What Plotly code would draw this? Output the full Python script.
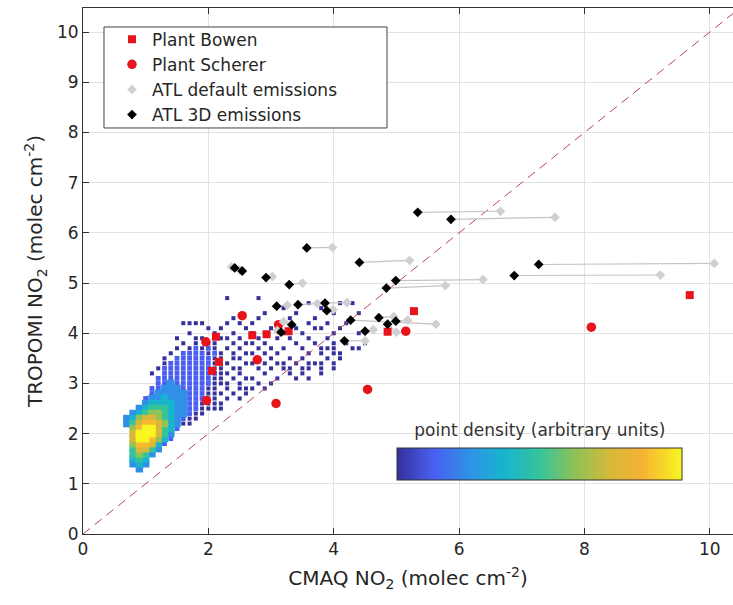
import plotly.graph_objects as go

# ---------------------------------------------------------------
# Point-density cloud of CMAQ vs TROPOMI NO2 (10^16 molec cm-2),
# binned on a 0.1 x 0.1 grid. Each row string is one y bin (top
# row first); columns are x bins starting at 0.7, split in blocks
# of ten by "|". "." = empty bin, 1..9 = relative point density.
# ---------------------------------------------------------------
DENSITY_X0 = 0.7
DENSITY_Y_TOP = 4.7
DENSITY_STEP = 0.1
DENSITY_ROWS = [
    "..........|......1...|.1........|..........",  # 4.7
    "..........|..........|.........1|....1.1...",  # 4.6
    "..........|..........|.....1....|.1........",  # 4.5
    "..........|..........|..1....1..|...1...1..",  # 4.4
    "..........|.......1..|.1....1...|1.........",  # 4.3
    ".........1|111...1.1.|1...1....1|..1..1....",  # 4.2
    "..........|...1.1...1|...1...1..|11..1.....",  # 4.1
    "..........|1...1..1..|1.1..1..1.|...1...1..",  # 4.0
    "........1.|.11..11.1.|.1..1.1..1|..1.......",  # 3.9
    ".........1|.1.11..1.1|1.1....1..|1..1.1..1.",  # 3.8
    "........1.|12121.1.1.|.1.1.1..1.|.111..11..",  # 3.7
    ".......1.2|222121.1.1|1.1.1....1|.1.11.....",  # 3.6
    "......1.22|222211.11.|.1.1..1.1.|..1.1.....",  # 3.5
    "......1222|2222111..1|1.1.11.1.1|11.1......",  # 3.4
    ".....12222|222211.11.|.1.1.11.11|.1.1......",  # 3.3
    "....1.2222|2222211.1.|..1...1.1.|.1........",  # 3.2
    ".....22222|222211.1.1|1...1..1.1|..........",  # 3.1
    ".....22322|2222111.1.|.1.1......|..........",  # 3.0
    "....223332|22211.1.11|1.1.......|..........",  # 2.9
    "....233333|222111.1.1|..........|..........",  # 2.8
    "...2334333|22211.1.1.|..........|..........",  # 2.7
    "...3444433|221111....|..........|..........",  # 2.6
    "..34555433|221111....|..........|..........",  # 2.5
    ".345665433|211.......|..........|..........",  # 2.4
    "3467765432|11........|..........|..........",  # 2.3
    "3578876431|1.........|..........|..........",  # 2.2
    ".68997542.|..........|..........|..........",  # 2.1
    ".7999753..|..........|..........|..........",  # 2.0
    ".7998642..|..........|..........|..........",  # 1.9
    ".688742...|..........|..........|..........",  # 1.8
    ".57753....|..........|..........|..........",  # 1.7
    ".5653.....|..........|..........|..........",  # 1.6
    ".454......|..........|..........|..........",  # 1.5
    ".343......|..........|..........|..........",  # 1.4
    "..3.......|..........|..........|..........",  # 1.3
]

# Power plants (CMAQ, TROPOMI)
BOWEN_X = [2.12, 2.70, 2.93, 3.28, 2.17, 2.06, 4.86, 5.28, 9.68]
BOWEN_Y = [3.93, 3.96, 3.98, 4.04, 3.43, 3.25, 4.03, 4.44, 4.76]
SCHERER_X = [2.54, 1.96, 3.12, 2.78, 1.97, 3.08, 4.54, 5.15, 8.11]
SCHERER_Y = [4.35, 3.83, 4.17, 3.47, 2.66, 2.60, 2.88, 4.04, 4.12]

# Atlanta cells: 3D emissions and the matching default-emission runs
ATL_3D_X = [5.34, 5.87, 3.57, 4.41, 7.27, 6.88, 4.99, 4.84, 2.42, 2.54, 2.92, 3.29,
            3.09, 3.43, 3.86, 3.89, 3.33, 3.16, 4.27, 4.72, 4.86, 4.99, 4.50, 4.17]
ATL_3D_Y = [6.41, 6.27, 5.70, 5.41, 5.37, 5.15, 5.05, 4.90, 5.30, 5.24, 5.11, 4.97,
            4.54, 4.57, 4.60, 4.45, 4.17, 4.02, 4.26, 4.31, 4.18, 4.24, 4.04, 3.85]
ATL_DEF_X = [6.66, 7.53, 3.98, 5.21, 10.07, 9.21, 6.38, 5.78, 2.37, 2.50, 3.02, 3.50,
             3.26, 3.74, 4.21, 3.99, 3.20, 3.10, 5.63, 4.96, 5.00, 5.18, 4.63, 4.50]
ATL_DEF_Y = [6.43, 6.31, 5.71, 5.45, 5.39, 5.16, 5.07, 4.95, 5.32, 5.26, 5.13, 5.00,
             4.56, 4.59, 4.61, 4.47, 4.23, 4.05, 4.18, 4.33, 4.02, 4.26, 4.07, 3.85]

ONE_TO_ONE = [0, 11]
X_TICKS = [0, 2, 4, 6, 8, 10]
Y_TICKS = [0, 1, 2, 3, 4, 5, 6, 7, 8, 9, 10]

FONT = "DejaVu Sans, Verdana, sans-serif"
TXT = "#262626"

# parula-like colour ramp
PARULA = [
    [0.0, "#35309a"],
    [0.125, "#4a5ef0"],
    [0.25, "#3090e8"],
    [0.375, "#18b4cf"],
    [0.5, "#35c39c"],
    [0.625, "#8fc257"],
    [0.75, "#d6b83a"],
    [0.86, "#f6b233"],
    [1.0, "#f8f61f"],
]

# decode density grid
cells = []
for r, row in enumerate(DENSITY_ROWS):
    row = row.replace("|", "")
    y = round(DENSITY_Y_TOP - r * DENSITY_STEP, 2)
    for c, ch in enumerate(row):
        if ch.isdigit():
            cells.append((int(ch), round(DENSITY_X0 + c * DENSITY_STEP, 2), y))
cells.sort()
dens_v = [c[0] for c in cells]
dens_x = [c[1] for c in cells]
dens_y = [c[2] for c in cells]
dens_size = [4.0 if v == 1 else (4.8 if v == 2 else 7.5) for v in dens_v]

# connector lines between paired Atlanta points
link_x, link_y = [], []
for x0, y0, x1, y1 in zip(ATL_3D_X, ATL_3D_Y, ATL_DEF_X, ATL_DEF_Y):
    link_x += [x0, x1, None]
    link_y += [y0, y1, None]

fig = go.Figure()

fig.add_trace(go.Scatter(
    x=dens_x, y=dens_y, mode="markers", showlegend=False, hoverinfo="skip",
    marker=dict(
        symbol="square", size=dens_size, opacity=1, color=dens_v, cmin=1, cmax=9,
        colorscale=PARULA, line=dict(width=0), showscale=True,
        colorbar=dict(
            orientation="h", x=0.4835, xanchor="left", y=0.1013, yanchor="bottom",
            len=285, lenmode="pixels", thickness=32, xpad=0, ypad=0,
            outlinecolor="#333333", outlinewidth=1, ticks="", showticklabels=False,
            title=dict(text="point density (arbitrary units)", side="top",
                       font=dict(family=FONT, size=17, color="#333333")),
        ),
    ),
))

fig.add_trace(go.Scatter(
    x=ONE_TO_ONE, y=ONE_TO_ONE, mode="lines", showlegend=False, hoverinfo="skip",
    line=dict(color="#b8464c", width=1, dash="9px,6px"),
))

fig.add_trace(go.Scatter(
    x=link_x, y=link_y, mode="lines", showlegend=False, hoverinfo="skip",
    line=dict(color="#c4c4c4", width=1.2),
))

fig.add_trace(go.Scatter(
    x=BOWEN_X, y=BOWEN_Y, mode="markers", name="Plant Bowen",
    marker=dict(symbol="square", size=8, color="#e8141c", line=dict(width=0)),
))
fig.add_trace(go.Scatter(
    x=SCHERER_X, y=SCHERER_Y, mode="markers", name="Plant Scherer",
    marker=dict(symbol="circle", size=9.5, color="#e8141c", line=dict(width=0)),
))
fig.add_trace(go.Scatter(
    x=ATL_DEF_X, y=ATL_DEF_Y, mode="markers", name="ATL default emissions",
    marker=dict(symbol="diamond", size=7.5, color="#d0d0d0", line=dict(width=0)),
))
fig.add_trace(go.Scatter(
    x=ATL_3D_X, y=ATL_3D_Y, mode="markers", name="ATL 3D emissions",
    marker=dict(symbol="diamond", size=7.5, color="#000000", line=dict(width=0)),
))

axis_common = dict(
    showgrid=True, gridcolor="#e2e2e2", gridwidth=1, zeroline=False,
    showline=True, linecolor="#333333", linewidth=1,
    ticks="inside", ticklen=6, tickcolor="#333333",
    tickfont=dict(family=FONT, size=17, color=TXT),
)

fig.update_layout(
    width=733, height=605,
    margin=dict(l=83, r=0, t=8, b=71),
    paper_bgcolor="white", plot_bgcolor="white",
    font=dict(family=FONT, color=TXT),
    hovermode=False,
    xaxis=dict(
        range=[0, 10.37], tickvals=X_TICKS, ticktext=[str(v) for v in X_TICKS],
        mirror="ticks",
        title=dict(text="CMAQ NO<sub>2</sub> (molec cm<sup>-2</sup>)",
                   font=dict(family=FONT, size=20, color=TXT), standoff=12),
        **axis_common,
    ),
    yaxis=dict(
        range=[0, 10.48], tickvals=Y_TICKS, ticktext=[str(v) for v in Y_TICKS],
        mirror=False,
        title=dict(text="TROPOMI NO<sub>2</sub> (molec cm<sup>-2</sup>)",
                   font=dict(family=FONT, size=20, color=TXT), standoff=8),
        **axis_common,
    ),
    # framed legend panel; the entries sit inside it
    shapes=[dict(
        type="rect", xref="paper", yref="paper", layer="above",
        x0=0.0323, x1=0.4677, y0=0.7719, y1=0.9639,
        line=dict(color="#404040", width=1), fillcolor="white",
    )],
    legend=dict(
        x=0.0446, y=0.974, xanchor="left", yanchor="top",
        bgcolor="rgba(0,0,0,0)", borderwidth=0,
        font=dict(family=FONT, size=17, color=TXT),
        itemwidth=30, tracegroupgap=0,
    ),
)

fig.write_html("out.html", config={"displayModeBar": False})
